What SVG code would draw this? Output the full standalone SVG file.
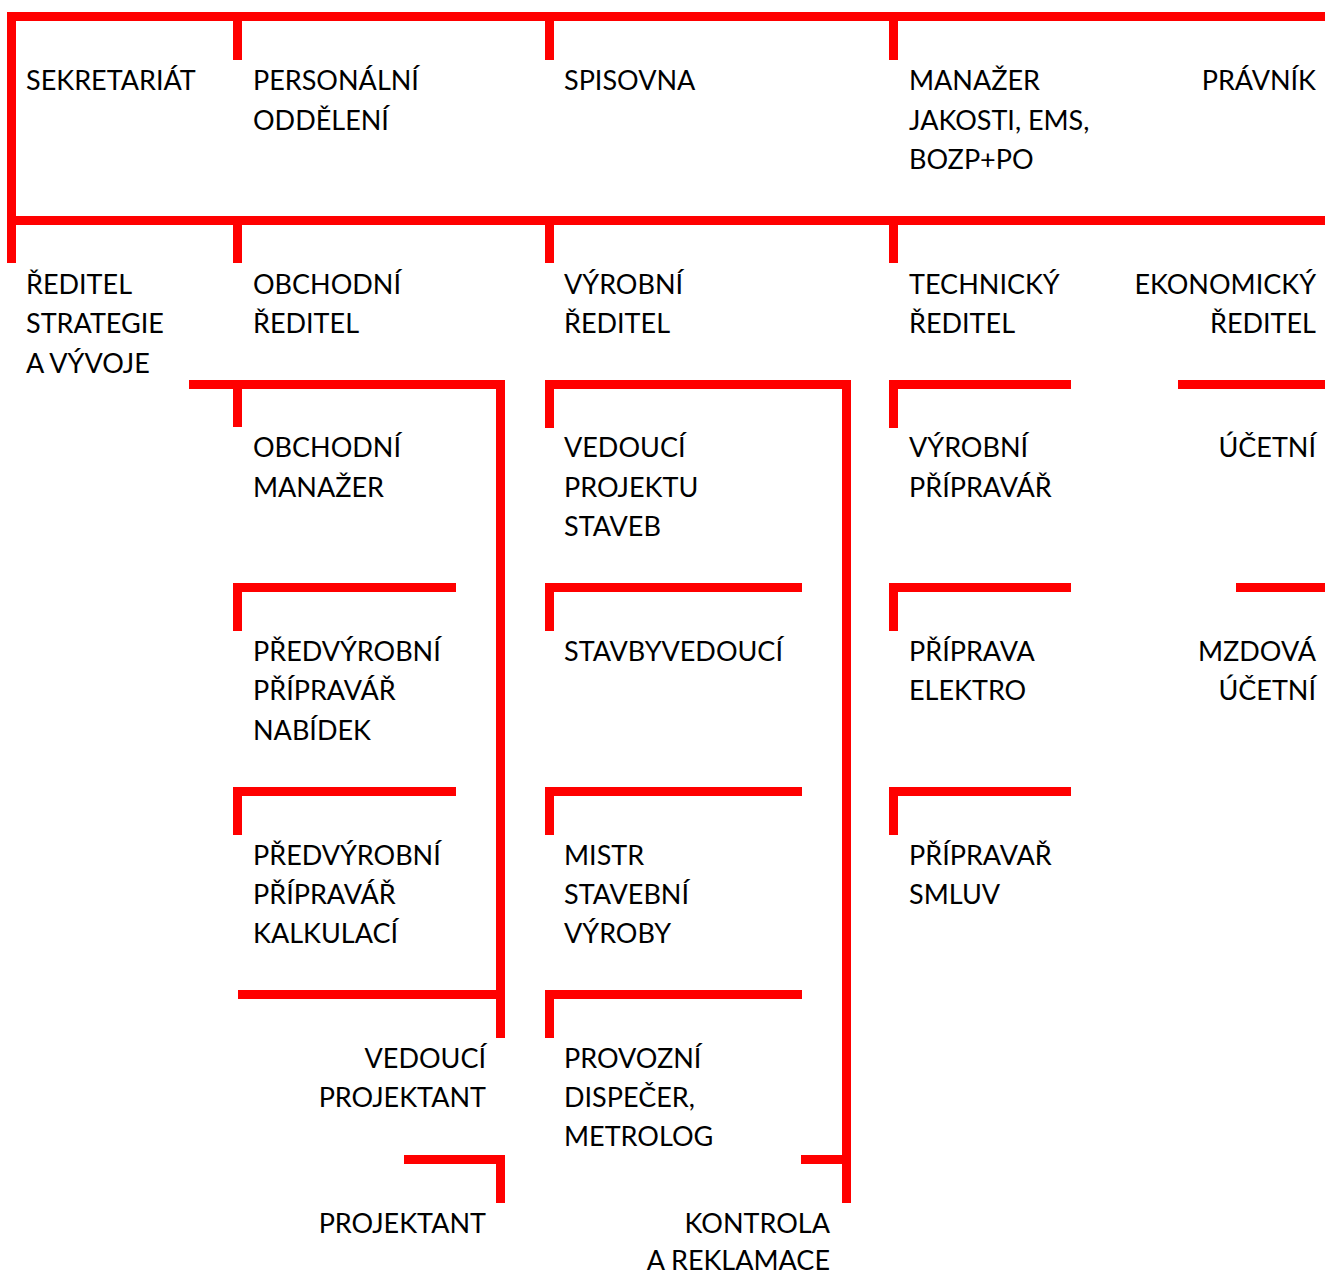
<svg xmlns="http://www.w3.org/2000/svg" width="1325" height="1275" viewBox="0 0 1325 1275">
<style>
.c{fill:none;stroke:#ff0000;stroke-width:9;stroke-linecap:butt;stroke-linejoin:miter}
text{font-family:Lato,"Open Sans","Liberation Sans",sans-serif;font-size:27px;fill:#000}
.r{text-anchor:end}
</style>
<rect width="1325" height="1275" fill="#fff"/>
<g id="connectors">
<path class="c" d="M11.5,263V16.5H1325"/>
<path class="c" d="M7,220.5H1325"/>
<path class="c" d="M237.5,21V60M549.5,21V60M893.5,21V60"/>
<path class="c" d="M237.5,225V263M549.5,225V263M893.5,225V263"/>
<path class="c" d="M189,384.5H500.5V1038"/>
<path class="c" d="M237.5,389V427"/>
<path class="c" d="M549.5,428V384.5H846.5V1203"/>
<path class="c" d="M893.5,428V384.5H1071"/>
<path class="c" d="M1178,384.5H1325"/>
<path class="c" d="M237.5,631V587.5H456"/>
<path class="c" d="M549.5,631V587.5H802"/>
<path class="c" d="M893.5,631V587.5H1071"/>
<path class="c" d="M1236,587.5H1325"/>
<path class="c" d="M237.5,835V791.5H456"/>
<path class="c" d="M549.5,835V791.5H802"/>
<path class="c" d="M893.5,835V791.5H1071"/>
<path class="c" d="M238,994.5H500.5"/>
<path class="c" d="M549.5,1038V994.5H802"/>
<path class="c" d="M404,1159.5H500.5V1203"/>
<path class="c" d="M801,1159.5H846.5"/>
</g>
<g id="sekretariat"><text x="26" y="90">SEKRETARIÁT</text></g>
<g id="personalni"><text x="253" y="90">PERSONÁLNÍ</text><text x="253" y="129.5">ODDĚLENÍ</text></g>
<g id="spisovna"><text x="564" y="90">SPISOVNA</text></g>
<g id="manazer-jakosti"><text x="909" y="90">MANAŽER</text><text x="909" y="129.5">JAKOSTI, EMS,</text><text x="909" y="169">BOZP+PO</text></g>
<g id="pravnik"><text class="r" x="1316" y="90">PRÁVNÍK</text></g>
<g id="reditel-strategie"><text x="26" y="293.5">ŘEDITEL</text><text x="26" y="333">STRATEGIE</text><text x="26" y="372.5">A VÝVOJE</text></g>
<g id="obchodni-reditel"><text x="253" y="293.5">OBCHODNÍ</text><text x="253" y="333">ŘEDITEL</text></g>
<g id="vyrobni-reditel"><text x="564" y="293.5">VÝROBNÍ</text><text x="564" y="333">ŘEDITEL</text></g>
<g id="technicky-reditel"><text x="909" y="293.5">TECHNICKÝ</text><text x="909" y="333">ŘEDITEL</text></g>
<g id="ekonomicky-reditel"><text class="r" x="1316" y="293.5">EKONOMICKÝ</text><text class="r" x="1316" y="333">ŘEDITEL</text></g>
<g id="obchodni-manazer"><text x="253" y="457">OBCHODNÍ</text><text x="253" y="497">MANAŽER</text></g>
<g id="vedouci-projektu"><text x="564" y="457">VEDOUCÍ</text><text x="564" y="497">PROJEKTU</text><text x="564" y="536">STAVEB</text></g>
<g id="vyrobni-pripravar"><text x="909" y="457">VÝROBNÍ</text><text x="909" y="497">PŘÍPRAVÁŘ</text></g>
<g id="ucetni"><text class="r" x="1316" y="457">ÚČETNÍ</text></g>
<g id="pripravar-nabidek"><text x="253" y="661">PŘEDVÝROBNÍ</text><text x="253" y="700">PŘÍPRAVÁŘ</text><text x="253" y="740">NABÍDEK</text></g>
<g id="stavbyvedouci"><text x="564" y="661">STAVBYVEDOUCÍ</text></g>
<g id="priprava-elektro"><text x="909" y="661">PŘÍPRAVA</text><text x="909" y="700">ELEKTRO</text></g>
<g id="mzdova-ucetni"><text class="r" x="1316" y="661">MZDOVÁ</text><text class="r" x="1316" y="700">ÚČETNÍ</text></g>
<g id="pripravar-kalkulaci"><text x="253" y="865">PŘEDVÝROBNÍ</text><text x="253" y="904">PŘÍPRAVÁŘ</text><text x="253" y="943">KALKULACÍ</text></g>
<g id="mistr"><text x="564" y="865">MISTR</text><text x="564" y="904">STAVEBNÍ</text><text x="564" y="943">VÝROBY</text></g>
<g id="pripravar-smluv"><text x="909" y="865">PŘÍPRAVAŘ</text><text x="909" y="904">SMLUV</text></g>
<g id="vedouci-projektant"><text class="r" x="486" y="1068">VEDOUCÍ</text><text class="r" x="486" y="1107">PROJEKTANT</text></g>
<g id="provozni-dispecer"><text x="564" y="1068">PROVOZNÍ</text><text x="564" y="1107">DISPEČER,</text><text x="564" y="1146">METROLOG</text></g>
<g id="projektant"><text class="r" x="486" y="1233">PROJEKTANT</text></g>
<g id="kontrola"><text class="r" x="830" y="1233">KONTROLA</text><text class="r" x="830" y="1270">A REKLAMACE</text></g>
</svg>
